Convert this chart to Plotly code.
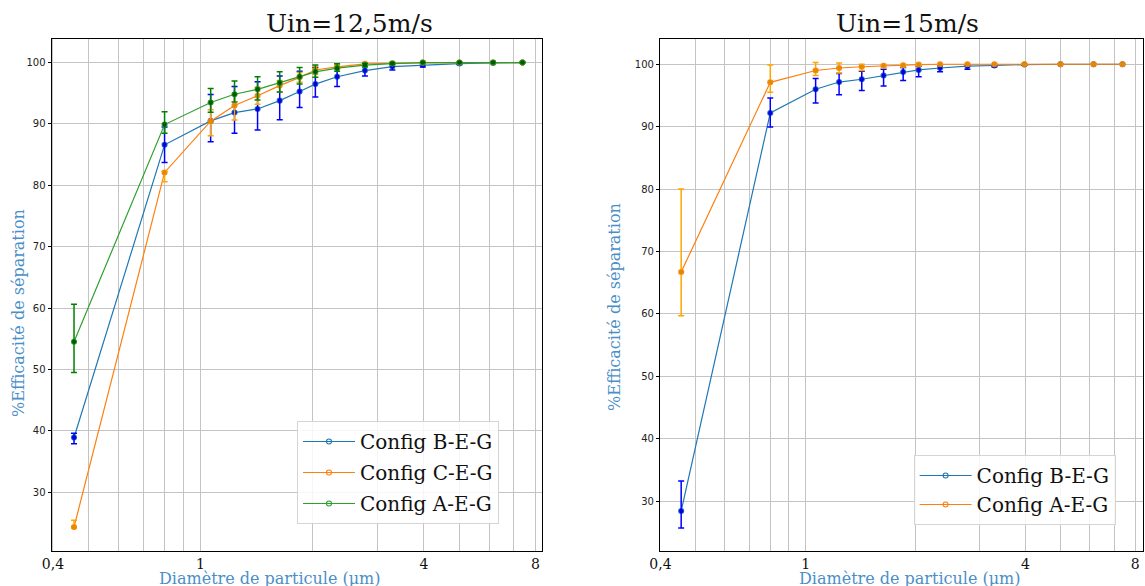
import math
import plotly.graph_objects as go

# ---------------- data ----------------
diametres = [0.456, 0.80, 1.065, 1.235, 1.425, 1.635, 1.85, 2.04, 2.335, 2.775, 3.29, 3.975, 4.99, 6.15, 7.38]

# Uin = 12,5 m/s
bEG_125 = [38.9, 86.6, 90.5, 91.85, 92.45, 93.8, 95.3, 96.5, 97.7, 98.7, 99.35, 99.6, 99.85, 99.95, 100.0]
bEG_125_haut = [39.6, 89.5, 94.8, 96.1, 96.9, 97.8, 98.6, 99.2, 99.3, 99.5, 99.8, 99.9, 99.95, 100.0, 100.0]
bEG_125_bas = [37.9, 83.7, 87.1, 88.5, 89.0, 90.7, 92.7, 94.4, 96.1, 97.8, 98.8, 99.3, 99.7, 99.9, 100.0]

cEG_125 = [24.3, 82.1, 90.45, 93.0, 94.6, 96.25, 97.6, 98.8, 99.3, 99.8, 99.9, 100.0, 100.0, 100.0, 100.0]
cEG_125_haut = [25.4, 82.3, 92.3, 94.8, 96.0, 97.1, 98.4, 99.4, 99.7, 99.95, 100.0, 100.0, 100.0, 100.0, 100.0]
cEG_125_bas = [24.1, 80.6, 88.1, 90.65, 93.2, 95.2, 96.8, 98.1, 98.9, 99.6, 99.8, 100.0, 100.0, 100.0, 100.0]

aEG_125 = [54.5, 89.9, 93.5, 94.85, 95.65, 96.7, 97.7, 98.5, 99.1, 99.6, 99.85, 100.0, 100.0, 100.0, 100.0]
aEG_125_haut = [60.6, 92.0, 95.8, 97.0, 97.7, 98.5, 99.2, 99.6, 99.8, 99.9, 100.0, 100.0, 100.0, 100.0, 100.0]
aEG_125_bas = [49.5, 88.5, 91.9, 93.6, 93.9, 95.2, 96.5, 97.6, 98.6, 99.3, 99.7, 100.0, 100.0, 100.0, 100.0]

# Uin = 15 m/s
bEG_15 = [28.4, 92.2, 96.0, 97.15, 97.6, 98.2, 98.75, 99.1, 99.4, 99.7, 99.8, 99.95, 100.0, 100.0, 100.0]
bEG_15_haut = [33.2, 94.6, 97.7, 98.5, 98.9, 99.2, 99.5, 99.7, 99.8, 99.9, 99.95, 100.0, 100.0, 100.0, 100.0]
bEG_15_bas = [25.7, 89.95, 93.8, 95.1, 95.8, 96.5, 97.4, 98.0, 98.8, 99.2, 99.6, 99.85, 100.0, 100.0, 100.0]

aEG_15 = [66.7, 97.1, 99.0, 99.4, 99.6, 99.75, 99.85, 99.95, 100.0, 100.0, 100.0, 100.0, 100.0, 100.0, 100.0]
aEG_15_haut = [80.0, 99.9, 100.3, 100.2, 100.0, 99.95, 100.0, 100.0, 100.0, 100.0, 100.0, 100.0, 100.0, 100.0, 100.0]
aEG_15_bas = [59.7, 95.5, 98.2, 98.6, 99.0, 99.4, 99.6, 99.8, 100.0, 100.0, 100.0, 100.0, 100.0, 100.0, 100.0]

x_tickvals = [0.4, 0.5, 0.6, 0.7, 0.8, 0.9, 1, 2, 3, 4, 5, 6, 7, 8]
x_ticktext = ["0,4", "", "", "", "", "", "1", "", "", "4", "", "", "", "8"]
y_tickvals = [30, 40, 50, 60, 70, 80, 90, 100]

titres = ["Uin=12,5m/s", "Uin=15m/s"]
x_titre = "Diamètre de particule (µm)"
y_titre = "%Efficacité de séparation"

# ---------------- figure ----------------
W, H = 1145, 586
fig = go.Figure()

TAB_BLUE, TAB_ORANGE, TAB_GREEN = "#1f77b4", "#ff7f0e", "#2ca02c"


def add_series(x, y, hi, lo, name, line_col, err_col, mk_col, xa, ya, legend):
    fig.add_trace(go.Scatter(
        x=x, y=y, mode="lines+markers", name=name, legendgroup=name + xa,
        line=dict(color=line_col, width=1.2),
        marker=dict(symbol="circle-open", size=5, color=line_col, line=dict(width=1.1)),
        xaxis=xa, yaxis=ya, legend=legend, showlegend=True))
    fig.add_trace(go.Scatter(
        x=x, y=y, mode="markers", showlegend=False, hoverinfo="skip", legendgroup=name + xa,
        marker=dict(symbol="circle", size=4.5, color=mk_col),
        error_y=dict(type="data", symmetric=False,
                     array=[h - v for h, v in zip(hi, y)],
                     arrayminus=[v - l for v, l in zip(y, lo)],
                     color=err_col, thickness=1.5, width=3),
        xaxis=xa, yaxis=ya))


add_series(diametres, bEG_125, bEG_125_haut, bEG_125_bas, "Config B-E-G", TAB_BLUE, "#0000ff", "#0000e0", "x", "y", "legend")
add_series(diametres, cEG_125, cEG_125_haut, cEG_125_bas, "Config C-E-G", TAB_ORANGE, "#ffa500", "#e08a00", "x", "y", "legend")
add_series(diametres, aEG_125, aEG_125_haut, aEG_125_bas, "Config A-E-G", TAB_GREEN, "#008000", "#005a00", "x", "y", "legend")

add_series(diametres, bEG_15, bEG_15_haut, bEG_15_bas, "Config B-E-G", TAB_BLUE, "#0000ff", "#0000e0", "x2", "y2", "legend2")
add_series(diametres, aEG_15, aEG_15_haut, aEG_15_bas, "Config A-E-G", TAB_ORANGE, "#ffa500", "#e08a00", "x2", "y2", "legend2")

GRID = "#c4c4c4"
xcommon = dict(type="log", tickvals=x_tickvals, ticktext=x_ticktext, showgrid=True, gridcolor=GRID,
               gridwidth=1, showline=True, linecolor="black", linewidth=1.2, mirror=True, ticks="",
               automargin=False,
               tickfont=dict(family="DejaVu Serif", size=14, color="#111"), zeroline=False)
ycommon = dict(tickvals=y_tickvals, showgrid=True, gridcolor=GRID, gridwidth=1, showline=True,
               linecolor="black", linewidth=1.2, mirror=True, ticks="outside", ticklen=3, tickcolor="black",
               automargin=False,
               tickfont=dict(family="DejaVu Sans", size=10, color="#222"), zeroline=False)

L1, R1 = 51.7, 542.0
L2, R2 = 660.0, 1143.0
TOP, BOT = 39.3, 551.0

legfont = dict(family="DejaVu Serif", size=20, color="#111")
fig.update_layout(
    width=W, height=H, margin=dict(l=0, r=0, t=0, b=0, autoexpand=False),
    paper_bgcolor="white", plot_bgcolor="white",
    xaxis=dict(xcommon, domain=[L1 / W, R1 / W], anchor="y", range=[math.log10(0.397), math.log10(8.33)]),
    yaxis=dict(ycommon, domain=[1 - BOT / H, 1 - TOP / H], anchor="x", range=[20.4, 103.8]),
    xaxis2=dict(xcommon, domain=[L2 / W, R2 / W], anchor="y2", range=[math.log10(0.399), math.log10(8.40)]),
    yaxis2=dict(ycommon, domain=[1 - BOT / H, 1 - TOP / H], anchor="x2", range=[22.0, 104.0]),
    legend=dict(x=297 / W, y=1 - 421 / H, xanchor="left", yanchor="top", font=legfont,
                itemwidth=52, tracegroupgap=2, traceorder="grouped",
                bgcolor="rgba(255,255,255,0.85)", bordercolor="#d5d5d5", borderwidth=1),
    legend2=dict(x=913.6 / W, y=1 - 455 / H, xanchor="left", yanchor="top", font=legfont,
                 itemwidth=52, tracegroupgap=0, traceorder="grouped",
                 bgcolor="rgba(255,255,255,0.85)", bordercolor="#d5d5d5", borderwidth=1),
    showlegend=True,
)

AX_COL = "#4a8fc8"
ann = []
ann.append(dict(text=titres[0], x=349 / W, y=1 - 23 / H, xref="paper", yref="paper", showarrow=False,
                xanchor="center", yanchor="middle", font=dict(family="DejaVu Serif", size=25, color="#111")))
ann.append(dict(text=titres[1], x=907 / W, y=1 - 23 / H, xref="paper", yref="paper", showarrow=False,
                xanchor="center", yanchor="middle", font=dict(family="DejaVu Serif", size=25, color="#111")))
for cx in (270, 910):
    ann.append(dict(text=x_titre, x=cx / W, y=1 - 578 / H, xref="paper", yref="paper", showarrow=False,
                    xanchor="center", yanchor="middle", font=dict(family="DejaVu Serif", size=16, color=AX_COL)))
for cx, cy in ((18, 313), (614, 307)):
    ann.append(dict(text=y_titre, x=cx / W, y=1 - cy / H, xref="paper", yref="paper", showarrow=False,
                    textangle=-90, xanchor="center", yanchor="middle",
                    font=dict(family="DejaVu Serif", size=16, color=AX_COL)))
fig.update_layout(annotations=ann)

fig.write_html("out.html", config={"displayModeBar": False},
               post_script="document.body.style.margin='0';document.body.style.padding='0';"
                           "document.body.style.overflow='hidden';")
